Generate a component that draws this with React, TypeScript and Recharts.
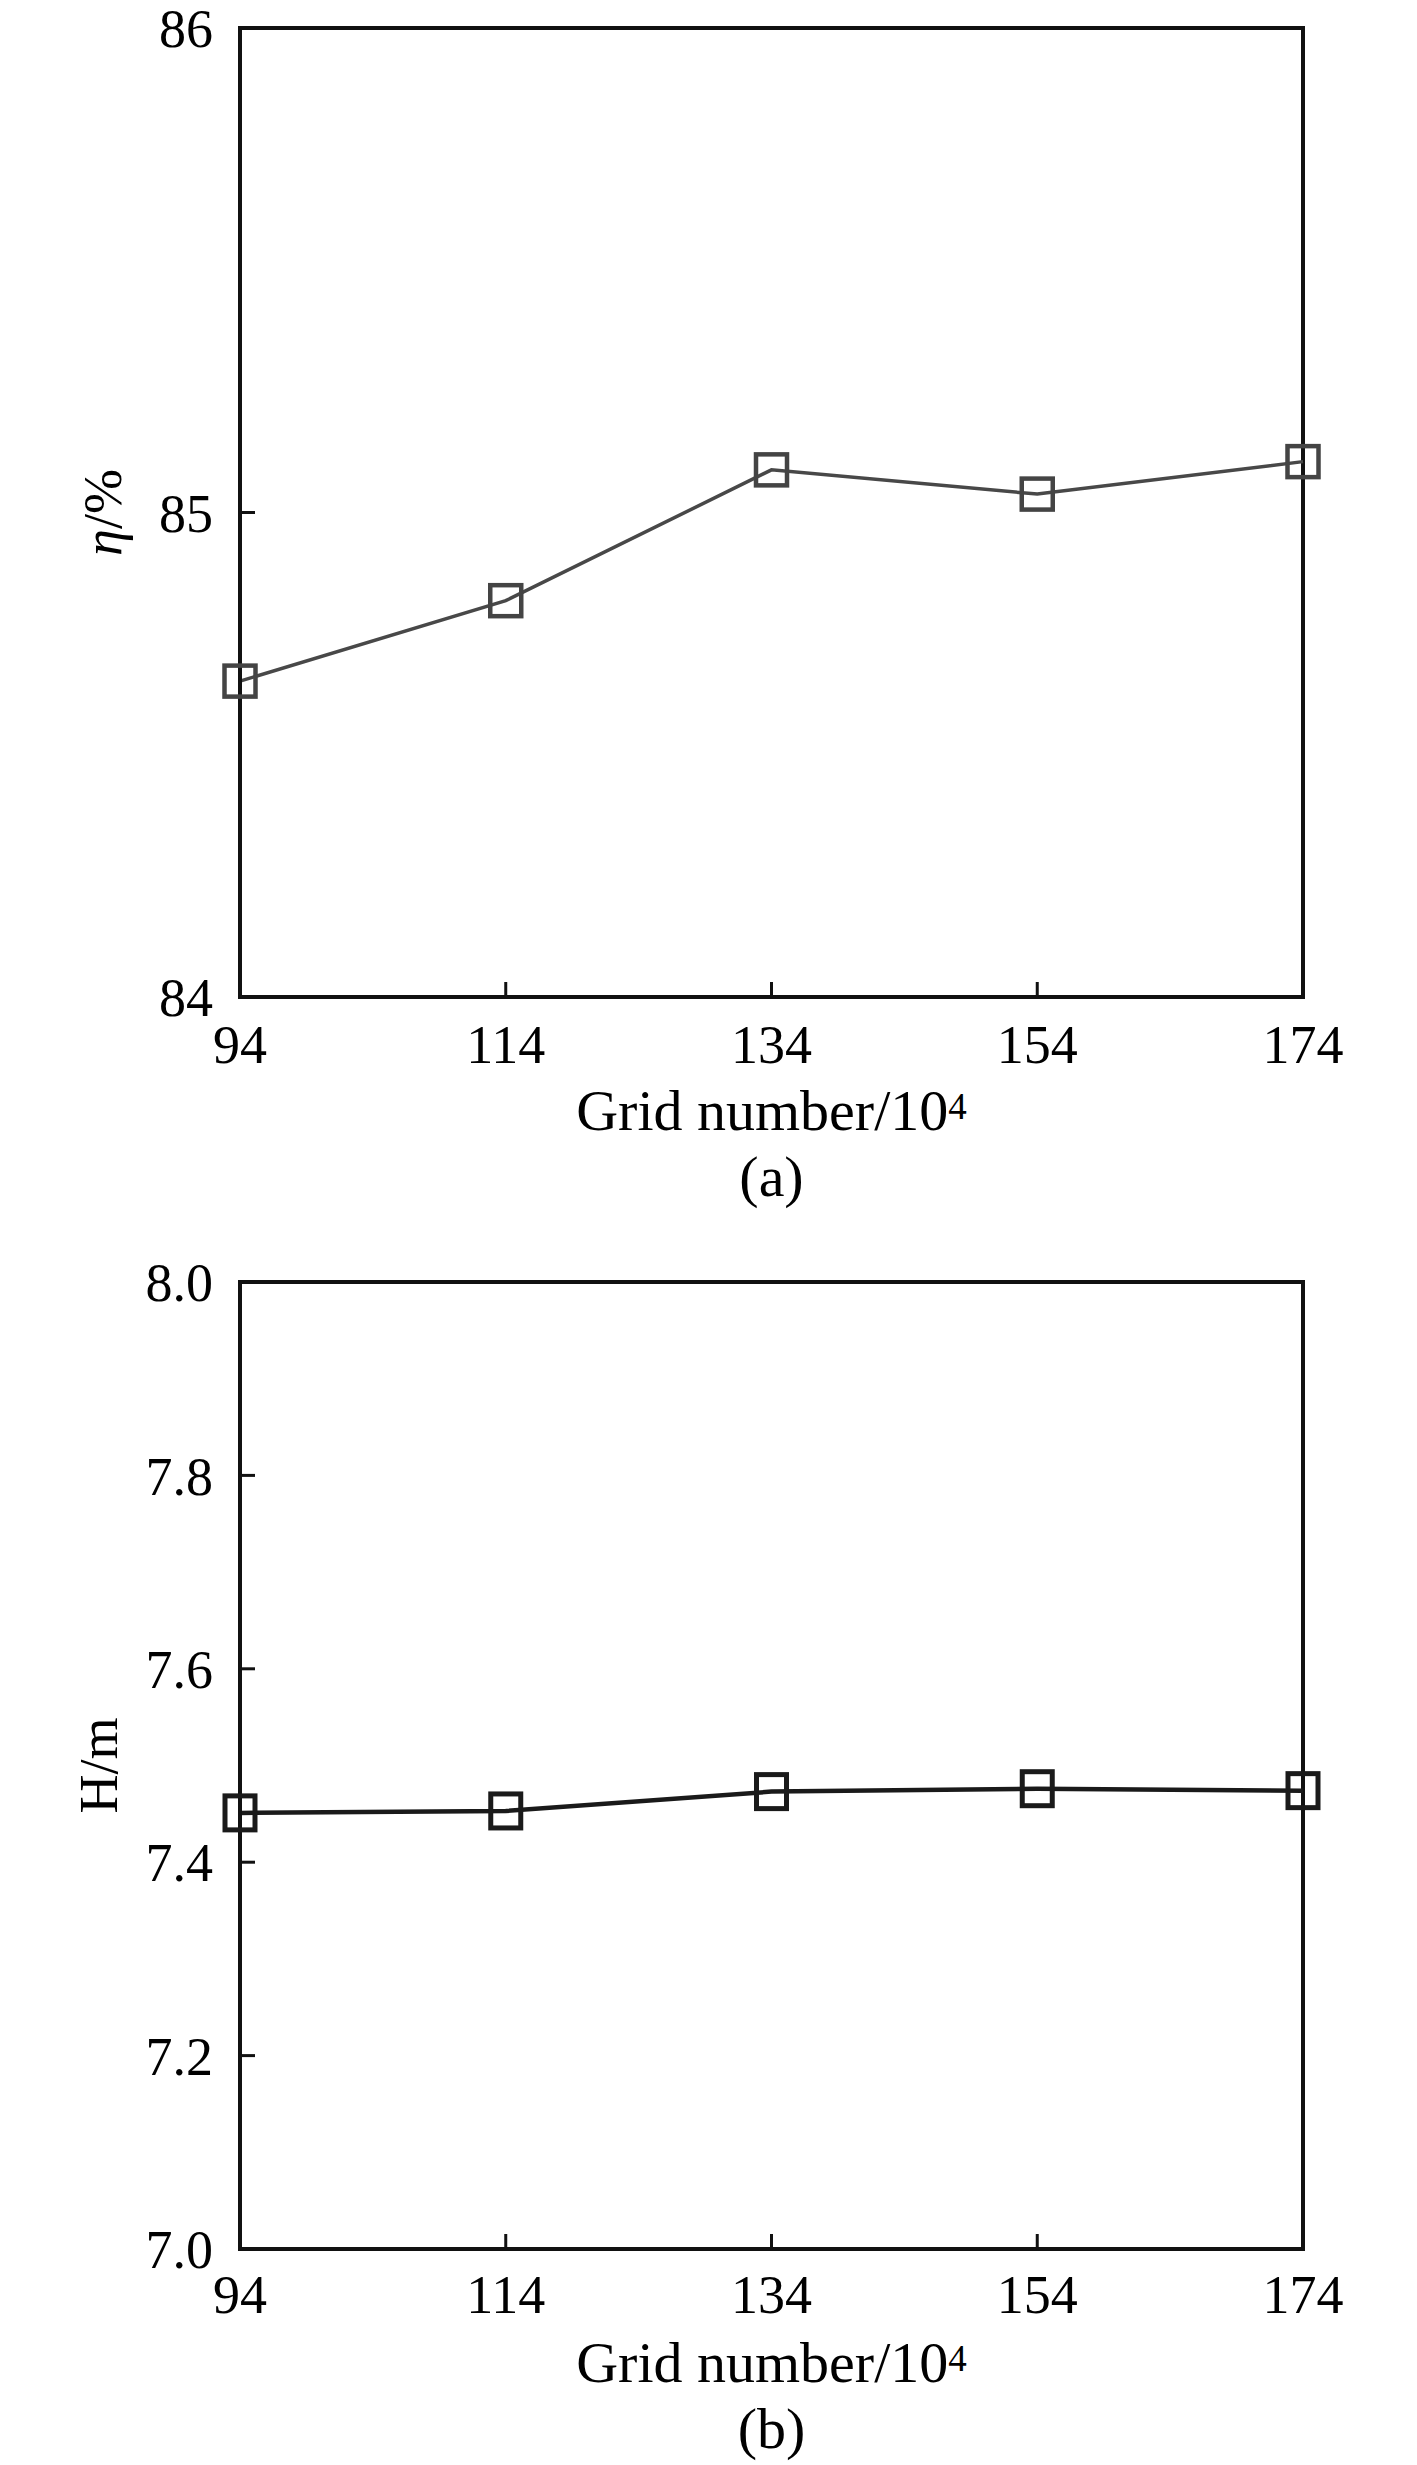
import React from "react";
import { LineChart, Line, XAxis, YAxis, ReferenceArea } from "recharts";

const gridNumbers = [94, 114, 134, 154, 174];
const efficiency = [84.652, 84.818, 85.088, 85.038, 85.105];
const head = [7.451, 7.453, 7.473, 7.476, 7.474];
const etaTicks = [84, 85, 86];
const headTicks = [7.0, 7.2, 7.4, 7.6, 7.8, 8.0];

const effData = gridNumbers.map((x, i) => ({ x, v: efficiency[i] }));
const headData = gridNumbers.map((x, i) => ({ x, v: head[i] }));

const FONT = '"Liberation Serif", "Times New Roman", Times, serif';

const makeSquare = (w: number, h: number, color: string, sw: number) => (props: any) => {
  const { cx, cy, index } = props;
  if (cx == null || cy == null) return <g key={index} />;
  return (
    <rect
      key={index}
      x={cx - w / 2}
      y={cy - h / 2}
      width={w}
      height={h}
      fill="none"
      stroke={color}
      strokeWidth={sw}
    />
  );
};

const makeXLabel = (tag: string) => (props: any) => {
  const vb = props.viewBox || { x: 240, y: 997, width: 1063, height: 243 };
  const cx = vb.x + vb.width / 2;
  return (
    <g>
      <text x={cx} y={vb.y + 133} textAnchor="middle" fontFamily={FONT} fontSize={58} fill="#000">
        <tspan>Grid number/10</tspan>
        <tspan fontSize={37} dy={-11}>4</tspan>
      </text>
      <text x={cx} y={vb.y + 199} textAnchor="middle" fontFamily={FONT} fontSize={58} fill="#000">
        {tag}
      </text>
    </g>
  );
};

const makeYLabel = (content: React.ReactNode, bx: number) => (props: any) => {
  const vb = props.viewBox || { x: 0, y: 28, width: 240, height: 969 };
  const cy = vb.y + vb.height / 2;
  return (
    <text
      x={bx}
      y={cy}
      transform={`rotate(-90 ${bx} ${cy})`}
      textAnchor="middle"
      fontFamily={FONT}
      fontSize={54}
      fill="#000"
    >
      {content}
    </text>
  );
};

const tickStyle = { fontSize: 54, fill: "#000", fontFamily: FONT };

export default function App() {
  return (
    <div style={{ position: "absolute", left: 0, top: 0, width: 1417, height: 2465, background: "#fff" }}>
      <div style={{ position: "absolute", left: 0, top: 0 }}>
        <LineChart
          width={1417}
          height={1240}
          data={effData}
          margin={{ top: 28, right: 114, bottom: 0, left: 0 }}
        >
          <XAxis
            dataKey="x"
            type="number"
            domain={[94, 174]}
            ticks={gridNumbers}
            interval={0}
            height={243}
            tickSize={-15}
            tickMargin={43}
            tick={tickStyle}
            axisLine={{ stroke: "#111", strokeWidth: 4 }}
            tickLine={{ stroke: "#111", strokeWidth: 3 }}
            label={{ content: makeXLabel("(a)") } as any}
          />
          <YAxis
            type="number"
            domain={[84, 86]}
            ticks={etaTicks}
            interval={0}
            width={240}
            tickSize={-15}
            tickMargin={42}
            tick={tickStyle}
            axisLine={{ stroke: "#111", strokeWidth: 4 }}
            tickLine={{ stroke: "#111", strokeWidth: 3 }}
            label={{
              content: makeYLabel(
                <>
                  <tspan fontStyle="italic">η</tspan>
                  <tspan>/%</tspan>
                </>,
                121
              ),
            } as any}
          />
          <ReferenceArea
            x1={94}
            x2={174}
            y1={84}
            y2={86}
            fill="none"
            fillOpacity={0}
            stroke="#111"
            strokeWidth={4}
            ifOverflow="visible"
          />
          <Line
            dataKey="v"
            stroke="#484848"
            strokeWidth={3.5}
            dot={makeSquare(31, 31, "#444", 4.5)}
            isAnimationActive={false}
          />
        </LineChart>
      </div>
      <div style={{ position: "absolute", left: 0, top: 1240 }}>
        <LineChart
          width={1417}
          height={1225}
          data={headData}
          margin={{ top: 42, right: 114, bottom: 0, left: 0 }}
        >
          <XAxis
            dataKey="x"
            type="number"
            domain={[94, 174]}
            ticks={gridNumbers}
            interval={0}
            height={216}
            tickSize={-15}
            tickMargin={41}
            tick={tickStyle}
            axisLine={{ stroke: "#111", strokeWidth: 4 }}
            tickLine={{ stroke: "#111", strokeWidth: 3 }}
            label={{ content: makeXLabel("(b)") } as any}
          />
          <YAxis
            type="number"
            domain={[7, 8]}
            ticks={headTicks}
            interval={0}
            width={240}
            tickSize={-15}
            tickMargin={42}
            tickFormatter={(v: number) => v.toFixed(1)}
            tick={tickStyle}
            axisLine={{ stroke: "#111", strokeWidth: 4 }}
            tickLine={{ stroke: "#111", strokeWidth: 3 }}
            label={{ content: makeYLabel(<tspan>H/m</tspan>, 117) } as any}
          />
          <ReferenceArea
            x1={94}
            x2={174}
            y1={7}
            y2={8}
            fill="none"
            fillOpacity={0}
            stroke="#111"
            strokeWidth={4}
            ifOverflow="visible"
          />
          <Line
            dataKey="v"
            stroke="#1a1a1a"
            strokeWidth={4.5}
            dot={makeSquare(30, 34, "#1a1a1a", 5)}
            isAnimationActive={false}
          />
        </LineChart>
      </div>
    </div>
  );
}
